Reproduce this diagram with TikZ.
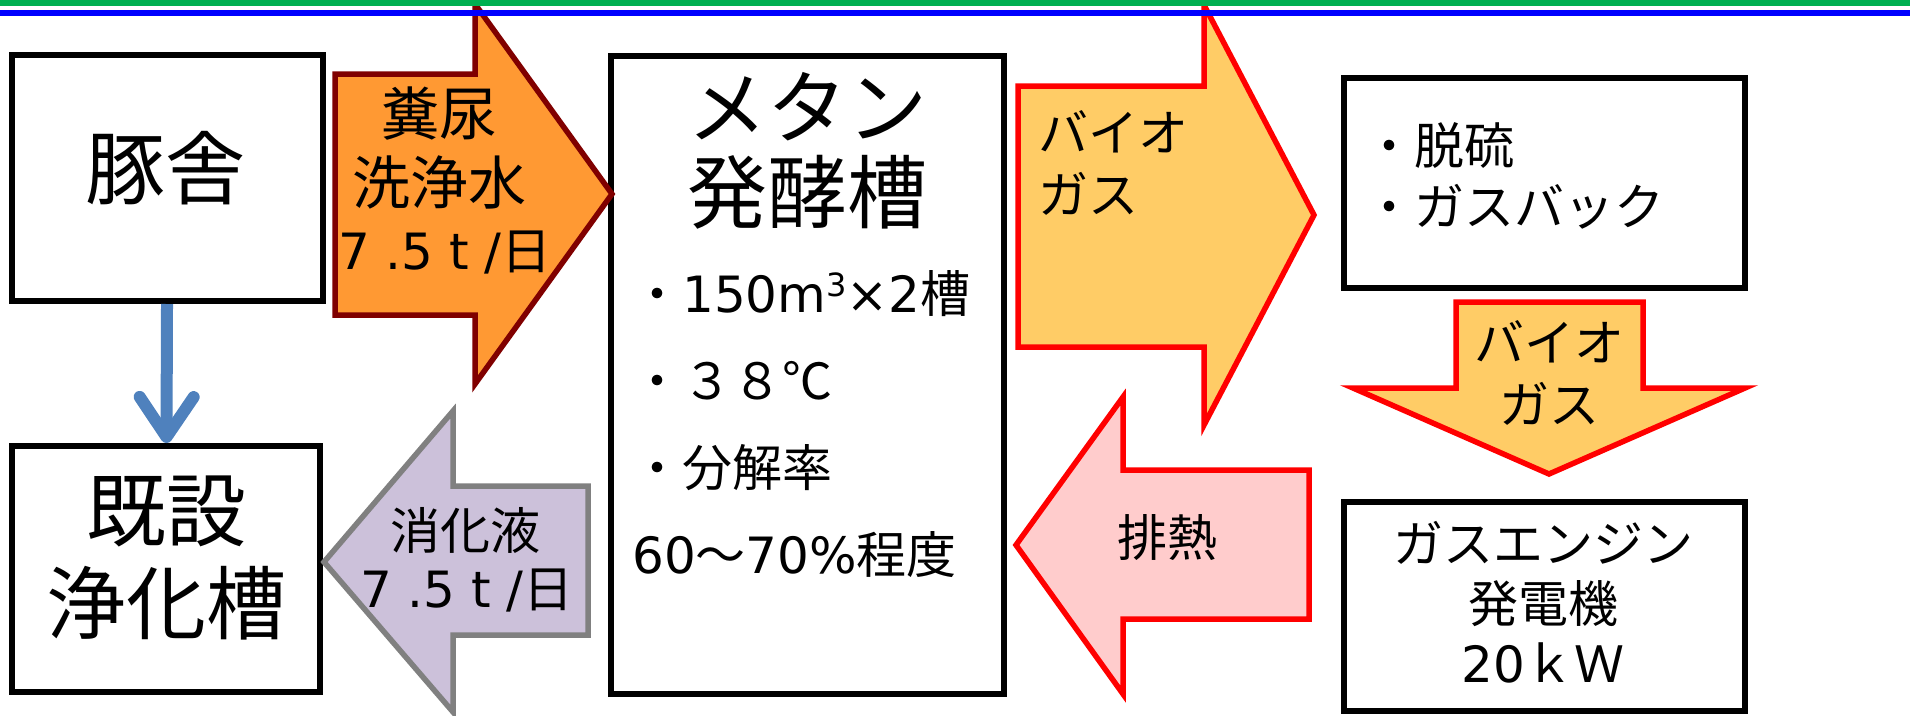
\documentclass[tikz,border=0pt]{standalone}
\usepackage{fontspec}
\setmainfont{Noto Sans CJK JP}
\newfontfamily\lat{DejaVu Sans}
\usepackage{tikz}
\usetikzlibrary{arrows.meta, positioning}
\definecolor{dungorange}{RGB}{255,153,51}
\definecolor{dungred}{RGB}{128,0,0}
\definecolor{gasyellow}{RGB}{255,204,102}
\definecolor{heatpink}{RGB}{255,204,204}
\definecolor{liquorlilac}{RGB}{204,193,218}
\definecolor{liquorgray}{RGB}{128,128,128}
\definecolor{flowblue}{RGB}{79,129,189}
\definecolor{rulegreen}{RGB}{0,176,80}
\definecolor{ruleblue}{RGB}{0,0,255}
\newcommand{\dailyrate}{{\lat 7 .5 t /}日}
\newcommand{\cubed}{\raisebox{16pt}{\fontsize{32}{32}\selectfont\lat 3}}

\begin{document}
\begin{tikzpicture}[x=1pt, y=-1pt,
	box/.style={draw, line width=6pt, inner sep=0pt},
	big/.style={inner sep=0pt, align=center, font=\fontsize{80}{92}\selectfont},
	mid/.style={inner sep=0pt, align=center, font=\fontsize{50}{61}\selectfont},
	blockarrow/.style={line width=5.5pt, line join=miter},
	flowline/.style={flowblue, line width=12pt, -{Straight Barb[length=40pt, width=54pt, round]}}]
		\useasboundingbox (0,0) rectangle (1910,715);
		% boxes
		\node[box, minimum width=311pt, minimum height=246pt] (pigsty) at (167.5,178) {};
		\node[box, minimum width=308pt, minimum height=246pt] (oldtank) at (166,569) {};
		\node[box, minimum width=393pt, minimum height=638pt] (digester) at (807.5,375) {};
		\node[box, minimum width=401pt, minimum height=210pt] (desulf) at (1544.5,183) {};
		\node[box, minimum width=401pt, minimum height=209pt] (engine) at (1544.5,606.5) {};
		\draw[flowline] (pigsty) -- (oldtank);
		% block arrows
		\draw[blockarrow, draw=dungred, fill=dungorange] (335,74) -- ++(140,0) -- ++(0,-70) -- (612,194) -- (475,384) -- ++(0,-69) -- ++(-140,0) -- cycle;
		\draw[blockarrow, draw=liquorgray, fill=liquorlilac] (588,486) -- ++(-135,0) -- ++(0,-75) -- (324,562) -- (453,712) -- ++(0,-77) -- ++(135,0) -- cycle;
		\draw[blockarrow, draw=red, fill=gasyellow] (1018,86) -- ++(186,0) -- ++(0,-81) -- (1314,215) -- (1204,425) -- ++(0,-78) -- ++(-186,0) -- cycle;
		\draw[blockarrow, draw=red, fill=heatpink] (1309,470) -- ++(-186,0) -- ++(0,-73) -- (1016,545) -- (1123,694) -- ++(0,-75) -- ++(186,0) -- cycle;
		\draw[blockarrow, draw=red, fill=gasyellow] (1456,302) -- ++(187,0) -- ++(0,86) -- ++(102,0) -- (1549,474) -- (1353,388) -- ++(103,0) -- cycle;
		% texts
		\node[big] (pigtext) at (165,168) {豚舎};
		\node[big, font=\fontsize{80}{93}\selectfont] (oldtanktext) at (166,558) {既設\\浄化槽};
		\node[big, font=\fontsize{80}{85}\selectfont] (digestertitle) at (807,151) {メタン\\発酵槽};
		\node[mid, anchor=west, align=left, font=\fontsize{50}{87}\selectfont] (digesterlist) at (632,424) {・{\lat 150m\cubed×2}槽\\・３８℃\\・分解率\\{\lat 60}〜{\lat 70\%}程度};
		\node[mid, font=\fontsize{58}{69}\selectfont] (dungtext) at (439,148) {糞尿\\洗浄水};
		\node[mid] (dungrate) at (445,253) {\dailyrate};
		\node[mid] (liquortext) at (465,530) {消化液};
		\node[mid] (liquorrate) at (467,591) {\dailyrate};
		\node[mid, anchor=west, align=left, font=\fontsize{50}{62}\selectfont] (gastext) at (1038,163) {バイオ\\ガス};
		\node[mid] (heattext) at (1167,538) {排熱};
		\node[mid, anchor=west, align=left] (desulftext) at (1364,176) {・脱硫\\・ガスバック};
		\node[mid, font=\fontsize{50}{62}\selectfont] (gasdowntext) at (1549,373) {バイオ\\ガス};
		\node[mid, font=\fontsize{50}{60}\selectfont] (enginetext) at (1543,602) {ガスエンジン\\発電機\\{\lat 20}ｋＷ};
		% rules
		\draw[rulegreen, line width=5.7pt] (0,2.85) -- (1910,2.85);
		\draw[ruleblue, line width=5.7pt] (0,12.9) -- (1910,12.9);
\end{tikzpicture}
\end{document}
